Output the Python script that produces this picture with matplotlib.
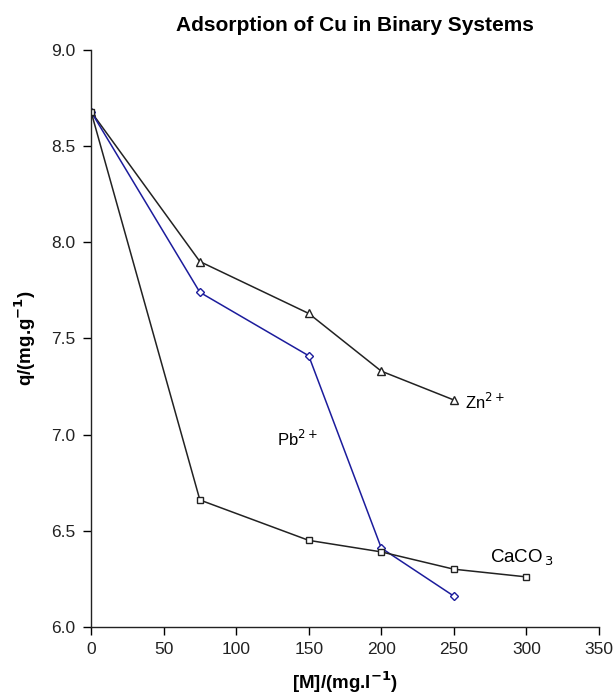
import matplotlib
matplotlib.use('Agg')
from matplotlib import pyplot as plt

plt.rcParams['font.family'] = ['Liberation Sans', 'DejaVu Sans']

# Cu uptake q vs. concentration of the competing species
x_zn = [0, 75, 150, 200, 250]
q_zn = [8.68, 7.90, 7.63, 7.33, 7.18]

x_pb = [0, 75, 150, 200, 250]
q_pb = [8.68, 7.74, 7.41, 6.41, 6.16]

x_caco3 = [0, 75, 150, 200, 250, 300]
q_caco3 = [8.68, 6.66, 6.45, 6.39, 6.30, 6.26]

fig = plt.figure(figsize=(6.15, 6.95), dpi=100)
ax = fig.add_axes([0.148, 0.098, 0.826, 0.83])

ax.plot(x_zn, q_zn, color='#222222', lw=1.1, marker='^', ms=5.5,
        mfc='white', mec='#222222', mew=1.0)
ax.plot(x_pb, q_pb, color='#1c1c9c', lw=1.1, marker='D', ms=4.5,
        mfc='white', mec='#1c1c9c', mew=1.0)
ax.plot(x_caco3, q_caco3, color='#222222', lw=1.1, marker='s', ms=5,
        mfc='white', mec='#222222', mew=1.0)

ax.text(258, 7.17, r'Zn$^{2+}$', fontsize=12, va='center')
ax.text(128, 6.98, r'Pb$^{2+}$', fontsize=12, va='center')
ax.text(275, 6.36, r'CaCO$_{\,3}$', fontsize=13.5, va='center')

ax.set_xlim(0, 350)
ax.set_ylim(6.0, 9.0)
ax.set_xticks(range(0, 351, 50))
ax.set_yticks([6.0, 6.5, 7.0, 7.5, 8.0, 8.5, 9.0])
ax.set_yticklabels(['%.1f' % v for v in ax.get_yticks()])
ax.tick_params(direction='out', length=6, width=1, labelsize=12.5, pad=5,
               labelcolor='#222222')
ax.spines['top'].set_visible(False)
ax.spines['right'].set_visible(False)
for s in ('left', 'bottom'):
    ax.spines[s].set_linewidth(1)
    ax.spines[s].set_color('#222222')

ax.set_xlabel(r'[M]/(mg.l$^{\mathbf{-1}}$)', fontsize=13.5, fontweight='bold', labelpad=9)
ax.set_ylabel(r'q/(mg.g$^{\mathbf{-1}}$)', fontsize=13.5, fontweight='bold', labelpad=10)
ax.set_title('Adsorption of Cu in Binary Systems', fontsize=15,
             fontweight='bold', x=0.52, pad=14)

fig.savefig('out.png', dpi=100)
